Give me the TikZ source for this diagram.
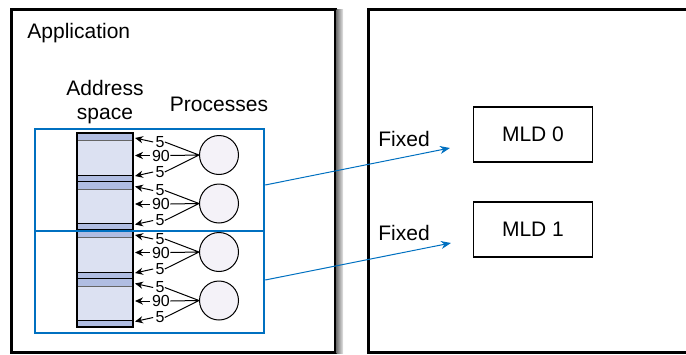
\documentclass[tikz,border=0pt]{standalone}
\usepackage{fontspec}
\setmainfont{Liberation Sans}
\usetikzlibrary{arrows.meta}
\definecolor{segblue}{RGB}{0,112,192}
\definecolor{bandfill}{RGB}{176,189,226}
\definecolor{spacefill}{RGB}{220,225,242}
\definecolor{procfill}{RGB}{244,242,248}

\begin{document}
\begin{tikzpicture}[x=0.5pt,y=-0.5pt,
  txt/.style={font=\fontsize{10.5}{12}\selectfont, inner sep=1pt},
  num/.style={font=\fontsize{8}{9}\selectfont, inner sep=0pt},
  proc/.style={draw, circle, fill=procfill, minimum size=19.5pt, inner sep=0pt, line width=0.5pt},
  seg/.style={draw=segblue, line width=1.2pt, minimum width=114.5pt, minimum height=51pt, inner sep=0pt},
  mld/.style={draw, line width=0.6pt, minimum width=59.5pt, minimum height=27.5pt, txt},
  fix/.style={-{Stealth[length=5pt,width=4pt]}, segblue, line width=0.5pt},
  ref/.style={-{Stealth[length=4pt,width=3.6pt]}, line width=0.5pt}]
\useasboundingbox (0,0) rectangle (686,354);
\clip (0,0) rectangle (686,354);

\draw[line width=1.3pt] (11.5,9.5) rectangle (335.5,352.5);
\shade[left color=black!55, right color=black!10] (336.5,9) rectangle (343,353.5);
\draw[line width=1.3pt] (368.5,9.5) rectangle (700,352.5);

\node[txt,anchor=west] (app) at (25,33) {Application};
\node[txt,align=center] (addr) at (105,102) {Address\\space};
\node[txt] (procs) at (219,104) {Processes};

\foreach \i in {0,...,3} {
  \pgfmathsetmacro\yt{133+48.5*\i}
  \fill[bandfill] (77,\yt) rectangle (133,\yt+48.5);
  \fill[spacefill] (77,\yt+7.5) rectangle (133,\yt+42);
  \draw[black!60, line width=0.5pt] (77,\yt+7.5) -- (133,\yt+7.5);
  \draw[line width=0.5pt] (77,\yt+42) -- (133,\yt+42);
  \draw[line width=0.6pt] (77,\yt+48.5) -- (133,\yt+48.5);
}
\draw[line width=0.9pt] (77,133) rectangle (133,327);

\foreach \i in {0,...,3} {
  \pgfmathsetmacro\yt{133+48.5*\i}
  \node[proc] (p\i) at (219,\yt+22) {};
  \coordinate (a\i) at (135,\yt+5);
  \coordinate (b\i) at (135,\yt+22.5);
  \coordinate (c\i) at (135,\yt+43);
  \node[num] (ta\i) at (160,\yt+9) {5};
  \node[num] (tb\i) at (161,\yt+22.5) {90};
  \node[num] (tc\i) at (160,\yt+39) {5};
  \draw[line width=0.5pt] (p\i.west) -- (ta\i.east) (p\i.west) -- (tb\i.east) (p\i.west) -- (tc\i.east);
  \draw[ref] ([xshift=-1pt]ta\i.west) -- (a\i);
  \draw[ref] ([xshift=-1pt]tb\i.west) -- (b\i);
  \draw[ref] ([xshift=-1pt]tc\i.west) -- (c\i);
}

\node[seg] (seg0) at (149.5,180) {};
\node[seg] (seg1) at (149.5,282) {};

\node[txt,anchor=west] (fx0) at (376,139) {Fixed};
\node[txt,anchor=west] (fx1) at (376,233) {Fixed};
\node[mld] (mld0) at (533,134.5) {MLD 0};
\node[mld] (mld1) at (533,229.5) {MLD 1};

\coordinate (e0) at (450,148);
\coordinate (e1) at (451,243);
\draw[fix] ([yshift=-2.5pt]seg0.east) -- (e0);
\draw[fix] ([yshift=1pt]seg1.east) -- (e1);
\end{tikzpicture}
\end{document}
